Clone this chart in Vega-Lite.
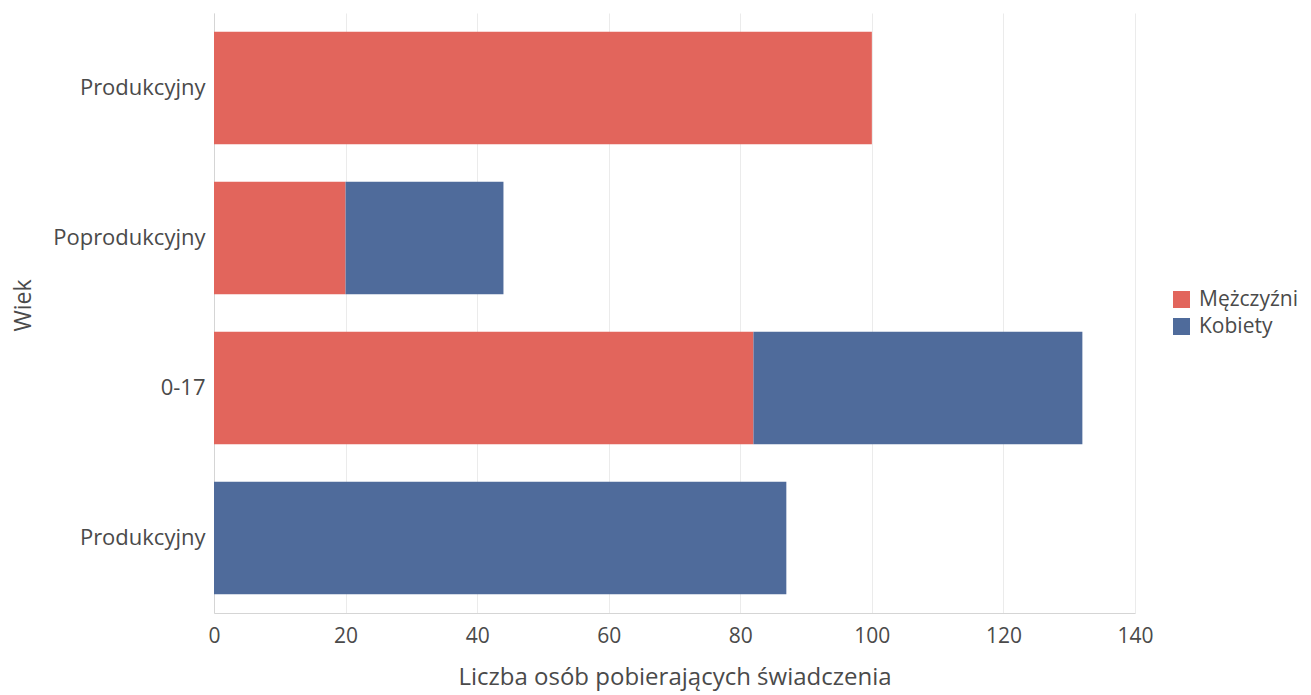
{
  "$schema": "https://vega.github.io/schema/vega-lite/v6.json",
  "autosize": "none",
  "width": 921,
  "height": 600,
  "padding": {"left": 214, "top": 13, "right": 176, "bottom": 82},
  "background": "white",
  "config": {
    "font": "Open Sans",
    "view": {"stroke": null},
    "axis": {"labelColor": "#4a4a4a", "titleColor": "#4a4a4a", "labelFont": "Open Sans", "titleFont": "Open Sans"},
    "legend": {"labelFont": "Open Sans"}
  },
  "data": {
    "values": [
      {"kat": "P1", "plec": "Mężczyźni", "liczba": 100},
      {"kat": "PP", "plec": "Mężczyźni", "liczba": 20},
      {"kat": "PP", "plec": "Kobiety", "liczba": 24},
      {"kat": "017", "plec": "Mężczyźni", "liczba": 82},
      {"kat": "017", "plec": "Kobiety", "liczba": 50},
      {"kat": "P2", "plec": "Kobiety", "liczba": 87}
    ]
  },
  "mark": {"type": "bar"},
  "encoding": {
    "y": {
      "field": "kat",
      "type": "nominal",
      "sort": ["P1", "PP", "017", "P2"],
      "scale": {"paddingInner": 0.25, "paddingOuter": 0.125},
      "axis": {
        "title": "Wiek",
        "labelExpr": "datum.value == 'PP' ? 'Poprodukcyjny' : datum.value == '017' ? '0-17' : 'Produkcyjny'",
        "labelFontSize": 22,
        "labelFontWeight": "normal",
        "labelPadding": 9,
        "ticks": false,
        "domain": true,
        "domainColor": "#d5d5d5",
        "titleFontSize": 23,
        "titleFontWeight": "normal",
        "titleX": -191,
        "titleY": 292,
        "titleAngle": -90,
        "titleBaseline": "middle",
        "titleAlign": "center"
      }
    },
    "x": {
      "field": "liczba",
      "type": "quantitative",
      "stack": "zero",
      "scale": {"domain": [0, 140], "nice": false},
      "axis": {
        "title": "Liczba osób pobierających świadczenia",
        "values": [0, 20, 40, 60, 80, 100, 120, 140],
        "labelFontSize": 21,
        "labelPadding": 12,
        "labelFlush": false,
        "ticks": true,
        "tickSize": 0,
        "grid": true,
        "gridColor": "#ebebeb",
        "domainColor": "#d5d5d5",
        "titleFontSize": 24,
        "titleFontWeight": "normal",
        "titlePadding": 19
      }
    },
    "color": {
      "field": "plec",
      "type": "nominal",
      "sort": ["Mężczyźni", "Kobiety"],
      "scale": {"domain": ["Mężczyźni", "Kobiety"], "range": ["#e2655c", "#4f6b9b"]},
      "legend": {
        "title": null,
        "orient": "none",
        "legendX": 957,
        "legendY": 276,
        "symbolType": "square",
        "symbolSize": 289,
        "symbolStrokeWidth": 0,
        "labelFontSize": 21,
        "labelColor": "#4a4a4a",
        "rowPadding": 5,
        "labelOffset": 7
      }
    },
    "order": {"field": "plec", "sort": "descending"}
  }
}
